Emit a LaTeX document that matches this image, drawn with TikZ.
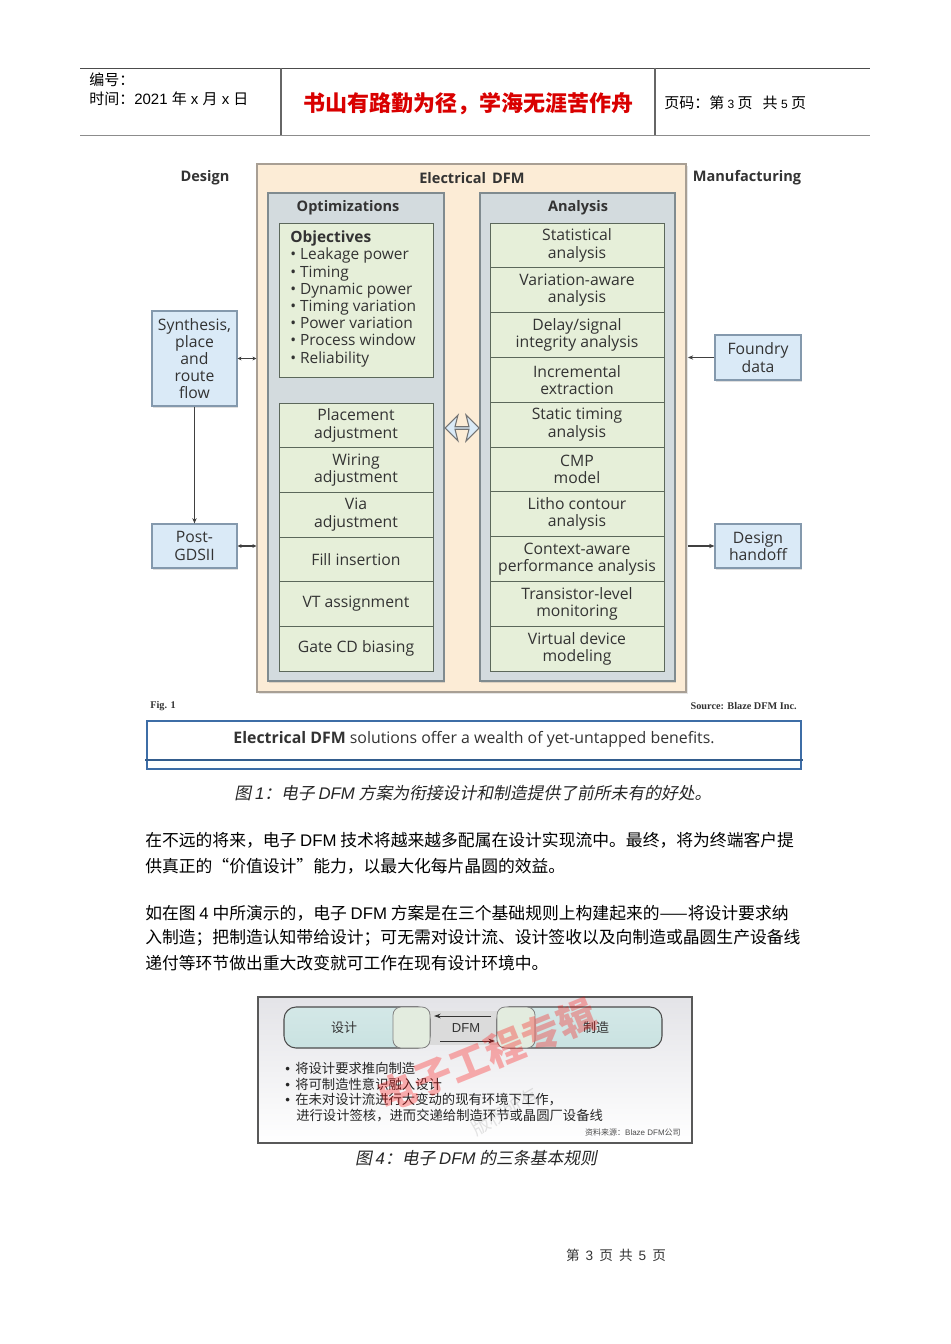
\documentclass[tikz,border=0pt]{standalone}
\usepackage{fontspec}
\setmainfont{Liberation Sans}
\newfontfamily\cjk{Noto Sans CJK SC}
\newfontfamily\cjkit{Noto Sans CJK SC}[FakeSlant=0.2]
\newfontfamily\dg{Open Sans}
\newfontfamily\ser{Liberation Serif}
\usetikzlibrary{shapes.arrows,arrows.meta,shadows}
\definecolor{peachf}{HTML}{FCECD6}
\definecolor{peachd}{HTML}{A89F94}
\definecolor{grayf}{HTML}{D3DBDE}
\definecolor{grayd}{HTML}{808B8F}
\definecolor{cellf}{HTML}{E6EFD9}
\definecolor{celld}{HTML}{5C685B}
\definecolor{bluef}{HTML}{DAEAF7}
\definecolor{blued}{HTML}{8499AD}
\definecolor{txt}{HTML}{333333}
\definecolor{capblue}{HTML}{3D6DA6}
\definecolor{pillf}{HTML}{C9E2E1}
\definecolor{sqf}{HTML}{E3ECDF}
\newcommand\latn[1]{{\rmfamily #1}}
\newcommand\latit[1]{{\rmfamily\itshape #1}}
\def\pxu{0.75pt}
\newcommand\dgfont{\dg\fontsize{11.8}{12.9}\selectfont}
\newcommand\bodyfont{\cjk\fontsize{12.6}{15}\selectfont}
\tikzset{
  dfmbox/.style={draw=peachd, fill=peachf, line width=0.8pt, inner sep=0,
    drop shadow={opacity=0.2,shadow xshift=1.5pt,shadow yshift=-1.5pt}},
  panel/.style={draw=grayd, fill=grayf, line width=0.8pt, inner sep=0,
    drop shadow={opacity=0.25,shadow xshift=1pt,shadow yshift=-1.5pt}},
  cell/.style={draw=celld, fill=cellf, line width=0.7pt, inner sep=0, align=center, text=txt, font=\dgfont},
  bluebox/.style={draw=blued, fill=bluef, line width=0.8pt, inner sep=0, align=center, text=txt, font=\dgfont,
    drop shadow={opacity=0.25,shadow xshift=1pt,shadow yshift=-1.5pt}},
  hdr/.style={font=\dg\bfseries\fontsize{10.9}{12}\selectfont, text=txt},
  conn/.style={-{Stealth[length=4pt,width=3.2pt]}, line width=1pt, draw=black!75},
  bconn/.style={{Stealth[length=3pt,width=2.8pt]}-{Stealth[length=3pt,width=2.8pt]}, line width=0.8pt, draw=black!75},
  bodyline/.style={anchor=west, inner sep=0, font=\bodyfont},
  bul/.style={anchor=west, inner sep=0, font=\cjk\fontsize{10}{12}\selectfont, text=black!85},
  pill/.style={draw=black!70, line width=0.8pt, rounded corners=12*\pxu, top color=pillf!80!white, bottom color=pillf, inner sep=0},
  sq/.style={draw=black!50, line width=0.6pt, rounded corners=8*\pxu, fill=sqf, inner sep=0},
}
\begin{document}
\begin{tikzpicture}[x=0.75pt,y=-0.75pt]
\useasboundingbox (0,0) rectangle (950,1344);
\fill[white] (0,0) rectangle (950,1344);

% ---------------- header ----------------
\draw[line width=0.6pt, black!70] (80,68) -- (870,68);
\draw[line width=1.4pt, black!45] (80,135.5) -- (870,135.5);
\draw[line width=0.8pt, black!60] (281,68) -- (281,135) (655,68) -- (655,135);
\node[anchor=west, inner sep=0, font=\cjk\fontsize{11.25}{13}\selectfont] (hno) at (89,80) {编号：};
\node[anchor=west, inner sep=0, font=\cjk\fontsize{11.25}{13}\selectfont] (htime) at (89,99) {时间：\latn{2021\ }年\latn{\ x\ }月\latn{\ x\ }日};
\node[inner sep=0, font=\cjk\bfseries\fontsize{16.5}{18}\selectfont, text=red!85!black] (motto) at (468,104) {书山有路勤为径，学海无涯苦作舟};
\node[anchor=west, inner sep=0, font=\cjk\fontsize{11.25}{13}\selectfont] (hpage) at (664,103) {页码：第\latn{\fontsize{9}{10}\selectfont\ 3\ }页\ \ \ 共\latn{\fontsize{9}{10}\selectfont\ 5\ }页};

% ---------------- figure 1 ----------------
\node[dfmbox, minimum width=429*\pxu, minimum height=528*\pxu] (dfm) at (471.5,428) {};
\node[hdr] (lDesign) at (205,178) {Design};
\node[hdr] (lDFM) at (472,178) {Electrical\, DFM};
\node[hdr] (lMan) at (747,178) {Manufacturing};

\node[panel, minimum width=176*\pxu, minimum height=488*\pxu] (opt) at (356,437) {};
\node[panel, minimum width=195*\pxu, minimum height=488*\pxu] (ana) at (577.5,437) {};
\node[hdr] (lOpt) at (348,208) {Optimizations};
\node[hdr] (lAna) at (578,208) {Analysis};

\node[cell, minimum width=154*\pxu, minimum height=154*\pxu] (obj) at (356,300) {};
\node[anchor=north west, align=left, inner sep=0, font=\dg\fontsize{11.6}{12.9}\selectfont, text=txt] (objtxt) at (290,230)
  {\textbf{Objectives}\\[0.5pt]
   • Leakage power\\ • Timing\\ • Dynamic power\\ • Timing variation\\ • Power variation\\ • Process window\\ • Reliability};

\foreach \i/\t in {1/{Placement\\adjustment}, 2/{Wiring\\adjustment}, 3/{Via\\adjustment},
                   4/{Fill insertion}, 5/{VT assignment}, 6/{Gate CD biasing}}
  \node[cell, minimum width=154*\pxu, minimum height=44.67*\pxu] (op\i) at (356,{403+44.67*(\i-0.5)}) {\t};

\foreach \i/\t in {1/{Statistical\\analysis}, 2/{Variation-aware\\analysis}, 3/{Delay/signal\\integrity analysis},
                   4/{Incremental\\extraction}, 5/{Static timing\\analysis}, 6/{CMP\\model},
                   7/{Litho contour\\analysis}, 8/{Context-aware\\performance analysis},
                   9/{Transistor-level\\monitoring}, 10/{Virtual device\\modeling}}
  \node[cell, minimum width=174*\pxu, minimum height=44.8*\pxu] (an\i) at (577,{223+44.8*(\i-0.5)}) {\t};

\node[double arrow, draw=black!55, fill=bluef, line width=0.8pt, inner sep=0,
      minimum height=34*\pxu, minimum width=26*\pxu, double arrow head extend=5*\pxu,
      double arrow head indent=3*\pxu] (link) at (462,428) {};

\node[bluebox, minimum width=85*\pxu, minimum height=95*\pxu] (synth) at (194.5,358.5)
  {Synthesis,\\place\\and\\route\\flow};
\node[bluebox, minimum width=85*\pxu, minimum height=44*\pxu] (post) at (194.5,546) {Post-\\GDSII};
\node[bluebox, minimum width=86*\pxu, minimum height=45*\pxu] (foundry) at (758,357.5) {Foundry\\data};
\node[bluebox, minimum width=86*\pxu, minimum height=44*\pxu] (handoff) at (758,546) {Design\\handoff};

\draw[bconn] (synth.east) -- (synth.east -| dfm.west);
\draw[conn] (synth.south) -- (post.north);
\draw[bconn] (post.east) -- (post.east -| dfm.west);
\draw[conn] (foundry.west) -- ([xshift=1pt]foundry.west -| dfm.east);
\draw[conn] ([xshift=1pt]handoff.west -| dfm.east) -- (handoff.west);

\node[anchor=west, inner sep=0, font=\ser\bfseries\fontsize{7.7}{8}\selectfont, text=txt] (fig1) at (150,706) {Fig. 1};
\node[anchor=east, inner sep=0, font=\ser\bfseries\fontsize{7.7}{8}\selectfont, text=txt] (src1) at (797,706) {Source: Blaze DFM Inc.};

\node[draw=capblue, line width=1pt, minimum width=654*\pxu, minimum height=48*\pxu, inner sep=0] (capbox) at (474,745) {};
\coordinate (capL) at (145,760);
\coordinate (capR) at (803,760);
\draw[capblue!85!black, line width=1.6pt] (capL) -- (capR);
\node[inner sep=0, font=\dg\fontsize{11.9}{13}\selectfont, text=txt] (captxt) at (474,739)
  {\textbf{Electrical DFM} solutions offer a wealth of yet-untapped benefits.};

\node[inner sep=0, font=\bodyfont, text=black!85] (cap1) at (473,793)
  {{\cjkit 图} \latit{1}{\cjkit ：电子} \latit{DFM} {\cjkit 方案为衔接设计和制造提供了前所未有的好处。}};

% ---------------- body text ----------------
\node[bodyline] (p1a) at (145,840) {在不远的将来，电子 \latn{DFM} 技术将越来越多配属在设计实现流中。最终，将为终端客户提};
\node[bodyline] (p1b) at (145,866) {供真正的“价值设计”能力，以最大化每片晶圆的效益。};
\node[bodyline] (p2a) at (145,913) {如在图 \latn{4} 中所演示的，电子 \latn{DFM} 方案是在三个基础规则上构建起来的——将设计要求纳};
\node[bodyline] (p2b) at (145,938) {入制造；把制造认知带给设计；可无需对设计流、设计签收以及向制造或晶圆生产设备线};
\node[bodyline] (p2c) at (145,963) {递付等环节做出重大改变就可工作在现有设计环境中。};

% ---------------- figure 4 ----------------
\node[draw=black!65, line width=0.8pt, minimum width=434*\pxu, minimum height=146*\pxu, inner sep=0,
      top color=blue!8!gray!20, bottom color=white] (f4) at (475,1070) {};
\fill[black!14] (420,1011) rectangle (510,1045);
\node[pill, minimum width=146*\pxu, minimum height=41*\pxu] (pdes) at (357,1027.5) {};
\node[pill, minimum width=165*\pxu, minimum height=41*\pxu] (pman) at (579.5,1027.5) {};
\node[sq, minimum width=37*\pxu, minimum height=41*\pxu] (sqL) at (411.5,1027.5) {};
\node[sq, minimum width=38*\pxu, minimum height=41*\pxu] (sqR) at (516,1027.5) {};
\node[inner sep=0, font=\cjk\fontsize{9.75}{11}\selectfont, text=txt] (tdes) at (344,1028) {设计};
\node[inner sep=0, font=\cjk\fontsize{9.75}{11}\selectfont, text=txt] (tman) at (596,1028) {制造};
\node[inner sep=0, font=\rmfamily\fontsize{9.75}{11}\selectfont, text=txt] (tdfm) at (466,1028) {DFM};
\coordinate (a1s) at (491,1016);
\coordinate (a1e) at (434,1016);
\coordinate (a2s) at (440,1041);
\coordinate (a2e) at (495,1041);
\draw[-{Stealth[length=5pt,width=3.5pt]}, line width=0.7pt, black!80] (a1s) -- (a1e);
\draw[-{Stealth[length=5pt,width=3.5pt]}, line width=0.7pt, black!80] (a2s) -- (a2e);

\node[bul] (b1) at (285,1068) {\latn{\textbullet}\hspace{4pt}将设计要求推向制造};
\node[bul] (b2) at (285,1084) {\latn{\textbullet}\hspace{4pt}将可制造性意识融入设计};
\node[bul] (b3) at (285,1100) {\latn{\textbullet}\hspace{4pt}在未对设计流进行大变动的现有环境下工作，};
\node[bul] (b4) at (296,1116) {进行设计签核，进而交递给制造环节或晶圆厂设备线};
\node[anchor=east, inner sep=0, font=\cjk\fontsize{6}{7}\selectfont, text=black!70] (src4) at (681,1132) {资料来源：\latn{Blaze DFM}公司};

\node[rotate=22, inner sep=0, text=red, opacity=0.3, font=\cjk\bfseries\fontsize{29}{30}\selectfont] (wm1) at (487,1055) {电子工程专辑};
\node[rotate=30, inner sep=0, text=black, opacity=0.1, font=\cjk\fontsize{14}{15}\selectfont] (wm2) at (505,1112) {版权所有};

\node[inner sep=0, font=\bodyfont, text=black!85] (cap4) at (476,1158)
  {{\cjkit 图} \latit{4}{\cjkit ：电子} \latit{DFM} {\cjkit 的三条基本规则}};

% ---------------- footer ----------------
\node[inner sep=0, font=\cjk\fontsize{10.2}{11}\selectfont, text=black!80] (foot) at (616,1255) {第\ \ \latn{3}\ \ 页\ \ 共\ \ \latn{5}\ \ 页};
\end{tikzpicture}
\end{document}
